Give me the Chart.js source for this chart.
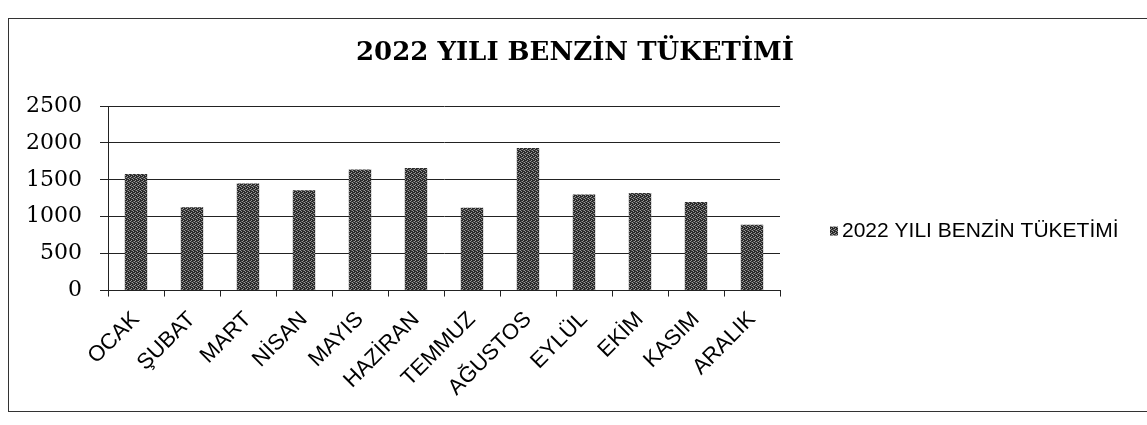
<!DOCTYPE html>
<html>
<head>
<meta charset="utf-8">
<script src="https://cdn.jsdelivr.net/npm/chart.js@4.4.1/dist/chart.umd.min.js"></script>
<style>
  html, body { margin: 0; padding: 0; background: #fff; }
  #frame {
    position: absolute; left: 8px; top: 18px;
    width: 1150px; height: 392px;
    border: 1px solid #333; border-right: none;
  }
  #wrap { position: absolute; left: 0; top: 0; width: 1130px; height: 392px; }
</style>
</head>
<body>
<div id="frame">
  <div id="wrap"><canvas id="myChart"></canvas></div>
</div>
<script>
const chartTitle = '2022 YILI BENZİN TÜKETİMİ';
const seriesName = '2022 YILI BENZİN TÜKETİMİ';
const months = ['OCAK', 'ŞUBAT', 'MART', 'NİSAN', 'MAYIS', 'HAZİRAN',
                'TEMMUZ', 'AĞUSTOS', 'EYLÜL', 'EKİM', 'KASIM', 'ARALIK'];
const consumption = [1580, 1130, 1450, 1360, 1640, 1660, 1120, 1930, 1300, 1320, 1200, 890];
const yTicks = [0, 500, 1000, 1500, 2000, 2500];

// dithered dark fill, like the printed bars
function makePattern() {
    var c = document.createElement('canvas');
    c.width = 4; c.height = 4;
    var g = c.getContext('2d');
    g.fillStyle = '#2a2a2a';
    g.fillRect(0, 0, 4, 4);
    g.fillStyle = '#9a9a9a';
    g.fillRect(0, 0, 1, 1);
    g.fillRect(2, 1, 1, 1);
    g.fillRect(1, 2, 1, 1);
    g.fillRect(3, 3, 1, 1);
    g.fillStyle = '#5c5c5c';
    g.fillRect(2, 3, 1, 1);
    g.fillRect(0, 2, 1, 1);
    return g.createPattern(c, 'repeat');
}
var barFill = makePattern();

// title + legend drawn at fixed spots, the way the sheet has them
const titleAndLegend = {
    id: 'titleAndLegend',
    afterDraw: function (chart) {
        var ctx = chart.ctx;
        var area = chart.chartArea;
        ctx.save();
        ctx.fillStyle = '#000';
        ctx.font = 'bold 26px "DejaVu Serif"';
        ctx.textAlign = 'center';
        ctx.textBaseline = 'middle';
        ctx.fillText(chartTitle, 566, 34);

        var lx = area.right + 50;
        var ly = area.bottom - 60;
        ctx.fillStyle = barFill;
        ctx.fillRect(lx, ly - 4, 8, 9);
        ctx.fillStyle = '#000';
        ctx.font = '21px "Liberation Sans"';
        ctx.textAlign = 'left';
        ctx.fillText(chart.data.datasets[0].label, lx + 12, ly + 1);
        ctx.restore();
    }
};

const data = {
    labels: months,
    datasets: [{
        label: seriesName,
        data: consumption,
        backgroundColor: barFill,
        categoryPercentage: 1,
        barPercentage: 0.4
    }]
};

const config = {
    type: 'bar',
    data: data,
    options: {
        responsive: true,
        maintainAspectRatio: false,
        animation: false,
        layout: { padding: { left: 17, right: 359, top: 87, bottom: 0 } },
        scales: {
            x: {
                grid: { display: true, drawOnChartArea: false, tickLength: 6, color: '#222' },
                border: { display: true, color: '#222' },
                ticks: {
                    color: '#000',
                    font: { family: 'Liberation Sans', size: 22 },
                    minRotation: 45, maxRotation: 45, padding: 10, autoSkip: false
                }
            },
            y: {
                min: 0, max: 2500,
                afterBuildTicks: function (axis) {
                    axis.ticks = yTicks.map(v => ({ value: v }));
                },
                afterFit: function (axis) { axis.width = 82; },
                grid: { color: '#222', tickLength: 8 },
                border: { display: true, color: '#222' },
                ticks: {
                    color: '#000',
                    padding: 18,
                    font: { family: 'DejaVu Serif', size: 22 },
                    callback: function (value) { return String(value); }
                }
            }
        },
        plugins: {
            legend: { display: false },
            title: { display: false },
            tooltip: { enabled: false }
        }
    },
    plugins: [titleAndLegend]
};

new Chart(document.getElementById('myChart'), config);
</script>
</body>
</html>
